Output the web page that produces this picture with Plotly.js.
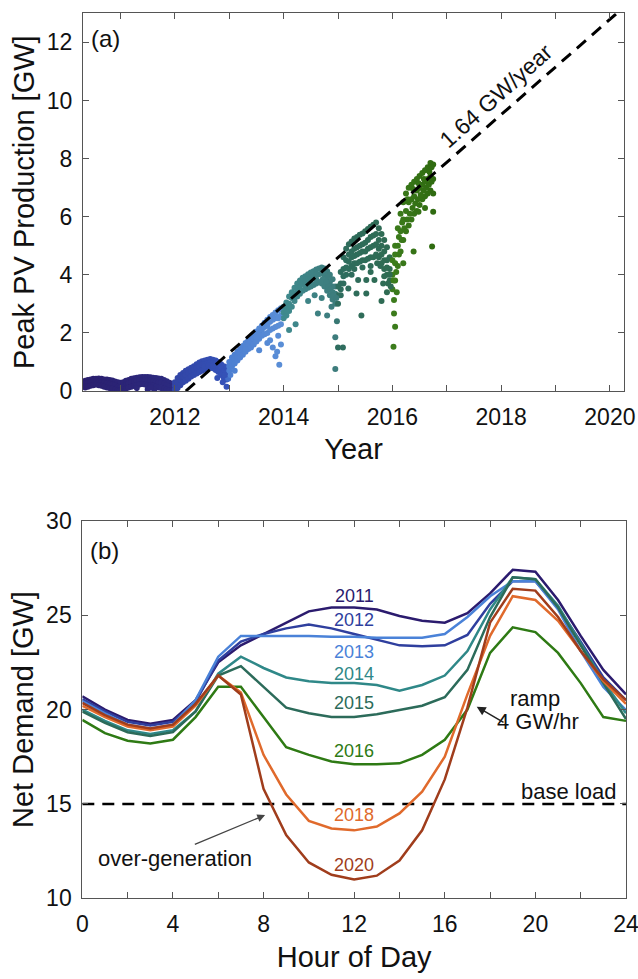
<!DOCTYPE html>
<html>
<head>
<meta charset="utf-8">
<script src="https://cdn.plot.ly/plotly-3.0.1.min.js"></script>
<style>
  html, body { margin: 0; padding: 0; background: #ffffff; }
  #chart { width: 638px; height: 979px; }
</style>
</head>
<body>
<div id="chart"></div>
<script>
// ---------- Panel (a): peak PV production ----------
const bandYear = [
  2010.35,2010.40,2010.45,2010.50,2010.55,2010.60,2010.65,2010.70,2010.75,2010.80,2010.85,2010.90,2010.95,
  2011.00,2011.05,2011.10,2011.15,2011.20,2011.25,2011.30,2011.35,2011.40,2011.45,2011.50,2011.55,2011.60,2011.65,2011.70,2011.75,2011.80,2011.85,2011.90,2011.95,
  2012.00,2012.05,2012.10,2012.15,2012.20,2012.25,2012.30,2012.35,2012.40,2012.45,2012.50,2012.55,2012.60,2012.65,2012.70,2012.75,2012.80,2012.85,2012.90,2012.95,
  2013.00,2013.05,2013.10,2013.15,2013.20,2013.25,2013.30,2013.35,2013.40,2013.45,2013.50,2013.55,2013.60,2013.65,2013.70,2013.75,2013.80,2013.85,2013.90,2013.95,
  2014.00,2014.05,2014.10,2014.15,2014.20,2014.25,2014.30,2014.35,2014.40,2014.45,2014.50,2014.55,2014.60,2014.65,2014.70,2014.75,2014.80,2014.85,2014.90,2014.95,
  2015.00,2015.05,2015.10,2015.15,2015.20,2015.25,2015.30,2015.35,2015.40,2015.45,2015.50,2015.55,2015.60,2015.65,2015.70,2015.75,2015.80,2015.85,2015.90,2015.95,
  2016.00,2016.05,2016.10,2016.15,2016.20,2016.25,2016.30,2016.35,2016.40,2016.45,2016.50,2016.55,2016.60,2016.65,2016.70,2016.75
];
const bandHigh = [
  0.35,0.38,0.40,0.42,0.42,0.43,0.42,0.40,0.40,0.38,0.36,0.33,0.30,
  0.28,0.30,0.35,0.38,0.42,0.44,0.46,0.47,0.48,0.48,0.48,0.47,0.46,0.45,0.43,0.42,0.38,0.34,0.28,0.25,
  0.30,0.45,0.55,0.62,0.70,0.75,0.80,0.85,0.92,0.98,1.02,1.05,1.08,1.10,1.08,1.05,1.00,0.92,0.85,0.82,
  1.00,1.15,1.25,1.35,1.45,1.55,1.65,1.75,1.85,1.95,2.05,2.15,2.25,2.35,2.45,2.55,2.62,2.70,2.78,2.85,
  2.90,3.05,3.25,3.40,3.55,3.70,3.80,3.90,3.95,4.02,4.08,4.12,4.18,4.22,4.25,4.22,4.12,4.00,3.85,3.60,
  3.60,4.10,4.60,4.90,5.05,5.15,5.25,5.30,5.38,5.42,5.50,5.58,5.65,5.72,5.80,5.60,5.40,5.20,4.95,4.60,
  4.50,5.00,5.60,6.10,6.50,6.80,7.00,7.10,7.20,7.30,7.40,7.50,7.60,7.70,7.85,7.80
];
const bandMid = [
  0.25,0.28,0.30,0.32,0.33,0.32,0.30,0.28,0.27,0.25,0.22,0.20,0.15,
  0.14,0.18,0.22,0.26,0.30,0.33,0.35,0.36,0.37,0.37,0.36,0.35,0.33,0.32,0.30,0.28,0.25,0.20,0.15,0.12,
  0.18,0.30,0.40,0.50,0.55,0.62,0.68,0.72,0.78,0.85,0.90,0.92,0.95,0.98,0.96,0.92,0.86,0.78,0.68,0.65,
  0.85,1.00,1.10,1.20,1.30,1.40,1.50,1.60,1.70,1.80,1.90,2.00,2.10,2.20,2.30,2.38,2.45,2.50,2.55,2.60,
  2.70,2.85,3.00,3.20,3.35,3.50,3.60,3.70,3.78,3.85,3.90,3.95,4.00,4.02,4.05,4.00,3.90,3.75,3.60,3.35,
  3.30,3.70,4.20,4.50,4.70,4.80,4.90,4.95,5.00,5.05,5.10,5.20,5.30,5.35,5.40,5.20,5.00,4.80,4.50,4.20,
  4.00,4.40,5.00,5.50,5.90,6.20,6.50,6.60,6.70,6.90,7.00,7.10,7.20,7.30,7.40,7.30
];
const bandLow = [
  0.12,0.15,0.18,0.20,0.22,0.20,0.18,0.15,0.12,0.10,0.08,0.05,0.03,
  0.02,0.05,0.08,0.12,0.15,0.18,0.20,0.22,0.24,0.22,0.20,0.20,0.18,0.15,0.12,0.10,0.08,0.05,0.03,0.02,
  0.05,0.10,0.20,0.30,0.35,0.42,0.50,0.55,0.60,0.65,0.70,0.75,0.78,0.80,0.78,0.72,0.65,0.55,0.45,0.40,
  0.70,0.85,0.95,1.05,1.15,1.25,1.35,1.45,1.50,1.60,1.70,1.80,1.90,1.95,2.00,2.10,2.15,2.20,2.25,2.30,
  2.50,2.60,2.75,2.90,3.10,3.25,3.35,3.45,3.50,3.55,3.60,3.65,3.70,3.75,3.70,3.60,3.45,3.30,3.15,3.00,
  3.00,3.30,3.70,4.00,4.20,4.30,4.40,4.40,4.45,4.50,4.50,4.55,4.60,4.60,4.70,4.60,4.40,4.20,4.00,3.80,
  3.50,3.80,4.30,4.80,5.20,5.50,5.70,5.90,6.10,6.20,6.40,6.60,6.70,6.80,6.90,6.80
];
// extra points inside the wider parts of the cloud
const innerYear = [
  2012.55,2012.62,2012.70,2013.30,2013.50,2013.70,2013.90,
  2014.05,2014.10,2014.20,2014.30,2014.40,2014.50,2014.60,2014.72,2014.78,2014.82,2014.86,2014.90,2014.92,2014.97,
  2015.05,2015.10,2015.15,2015.20,2015.25,2015.30,2015.35,2015.40,2015.45,2015.50,2015.55,2015.60,2015.65,2015.70,2015.75,2015.80,2015.85,2015.90,2015.95,
  2015.30,2015.45,2015.60,2015.72,2015.78,2015.85,2015.92,2015.97,
  2016.02,2016.07,2016.12,2016.17,2016.22,2016.27,2016.32,2016.37,2016.42,2016.47,2016.52,2016.57,2016.62,2016.67,2016.72,
  2016.05,2016.12,2016.18,2016.28,2016.38,2016.48,2016.58,2016.68,2016.72
];
const innerGW = [
  0.85,0.88,0.87,1.45,1.85,2.25,2.50,
  2.75,2.90,3.25,3.45,3.65,3.75,3.85,3.85,3.75,3.60,3.50,3.40,3.30,3.20,
  3.50,3.95,4.25,4.45,4.60,4.65,4.70,4.75,4.80,4.80,4.90,4.95,5.00,5.05,4.90,4.70,4.50,4.25,4.00,
  4.20,4.25,4.30,4.40,4.30,3.95,3.70,3.60,
  3.80,4.10,4.70,5.20,5.60,5.90,6.10,6.30,6.45,6.60,6.75,6.90,7.00,7.10,7.20,
  4.70,5.30,5.80,6.60,6.95,7.15,7.30,7.55,7.70
];
const outlierYear = [
  2011.30,2011.50,2011.62,2011.55,2010.98,2012.88,2012.95,2012.98,2013.02,2012.78,2012.92,
  2013.10,2013.55,2013.70,2013.80,2013.85,2013.90,2013.92,2013.88,2013.75,2013.95,
  2014.10,2014.22,2014.57,2014.63,2014.80,2014.95,2014.95,2015.00,2015.09,2014.45,2014.70,2014.88,2014.98,
  2015.19,2015.37,2015.52,2015.67,2015.34,2015.52,2015.43,2015.80,2015.83,2015.25,2015.60,2015.90,
  2016.02,2016.03,2016.03,2016.05,2016.08,2016.75,2016.73,2016.48,2016.39,2016.20,2016.60
];
const outlierGW = [
  0.10,0.06,0.05,0.12,0.00,0.30,0.15,0.42,0.55,0.45,0.55,
  0.70,1.40,1.65,1.50,1.20,1.90,0.90,1.35,1.75,1.60,
  2.10,2.30,3.30,2.67,2.60,1.85,0.76,1.50,1.50,3.10,3.20,2.90,2.40,
  3.53,3.82,3.82,3.82,3.36,3.36,2.60,3.10,3.70,4.00,4.10,3.40,
  1.52,3.13,2.67,2.21,3.40,6.17,4.97,6.17,4.80,4.40,6.30
];
const trendStartYear = 2012.2;   // year at which fitted trend crosses 0 GW
const trendRate = 1.64;          // GW per year
const trendTop = 13;             // GW (top of axis)

// ---------- Panel (b): net demand by hour ----------
const hours = [0,1,2,3,4,5,6,7,8,9,10,11,12,13,14,15,16,17,18,19,20,21,22,23,24];
const seriesNames = ['2011','2012','2013','2014','2015','2016','2018','2020'];
const d2011 = [20.7,20.0,19.45,19.25,19.45,20.5,22.5,23.4,24.0,24.6,25.2,25.4,25.4,25.3,24.95,24.7,24.6,25.1,26.15,27.4,27.3,25.8,23.9,22.1,20.8];
const d2012 = [20.55,19.9,19.35,19.15,19.35,20.4,22.6,23.6,24.0,24.3,24.5,24.3,24.0,23.7,23.4,23.35,23.4,23.95,25.6,26.8,26.8,25.4,23.6,21.7,20.5];
const d2013 = [20.45,19.8,19.2,19.0,19.2,20.5,22.8,23.9,23.9,23.9,23.9,23.85,23.85,23.8,23.8,23.8,24.0,24.9,26.0,26.8,26.8,25.3,23.1,21.2,19.97];
const d2014 = [20.0,19.4,18.9,18.7,18.9,19.9,21.9,22.8,22.2,21.7,21.5,21.4,21.4,21.3,21.0,21.3,21.8,23.1,25.3,27.0,26.9,25.5,23.5,21.5,19.8];
const d2015 = [19.9,19.3,18.8,18.6,18.8,19.9,21.8,22.3,21.2,20.1,19.8,19.6,19.6,19.75,19.97,20.2,20.65,22.1,24.9,27.0,26.9,25.4,23.4,21.4,19.5];
const d2016 = [19.45,18.75,18.35,18.2,18.4,19.6,21.2,21.2,19.6,18.0,17.6,17.25,17.1,17.1,17.15,17.6,18.4,20.0,23.0,24.35,24.1,23.0,21.4,19.6,19.4];
const d2018 = [20.2,19.6,19.1,18.9,19.1,20.2,21.8,20.9,17.6,15.5,14.1,13.7,13.6,13.8,14.5,15.65,17.5,20.8,23.9,26.0,25.8,24.7,23.1,21.5,20.3];
const d2020 = [20.35,19.7,19.2,19.0,19.2,20.3,21.8,20.8,15.8,13.35,11.9,11.25,11.0,11.2,12.0,13.6,16.3,20.1,24.6,26.4,26.3,24.9,23.1,21.6,20.5];
const labelHour = [12,12,12,12,12,12,12,12];
const labelValue = [26.0,24.75,23.07,21.88,20.33,17.78,14.41,11.76];
const baseLoad = 15;
const xTicksA = [2012,2014,2016,2018,2020];
const xTicksB = [0,4,8,12,16,20,24];

// ---------- styles ----------
const lineColors = ['#2b1b6e','#2f3f9e','#4a82d8','#2f8888','#2c6b5a','#2e7a14','#e06a2c','#a03d1c'];
const FONT = 'Liberation Sans, Arial, Helvetica, sans-serif';
const AX = '#555555';

const pvX = bandYear.concat(bandYear, bandYear, innerYear, outlierYear);
const pvY = bandHigh.concat(bandMid, bandLow, innerGW, outlierGW);

const traces = [];
traces.push({
  type: 'scatter', mode: 'markers', x: pvX, y: pvY, xaxis: 'x', yaxis: 'y',
  marker: {
    size: 6, color: pvX, cmin: 2010.3, cmax: 2016.8, showscale: false,
    colorscale: [
      [0.0000, '#2b1f6e'], [0.2538, '#2c2a80'], [0.2615, '#3245a5'], [0.4077, '#3552b8'],
      [0.4154, '#4d7fd2'], [0.5646, '#5a8ed6'], [0.5692, '#3f8a8e'], [0.7185, '#3d7c7c'],
      [0.7231, '#2f6d5f'], [0.8723, '#2f6b52'], [0.8769, '#3c7c1c'], [1.0000, '#2f6a10']
    ]
  },
  hoverinfo: 'skip', showlegend: false
});
traces.push({
  type: 'scatter', mode: 'lines', xaxis: 'x', yaxis: 'y',
  x: [trendStartYear, trendStartYear + trendTop / trendRate],
  y: [0, trendTop],
  line: { color: '#000000', width: 3, dash: '12px,8px' },
  showlegend: false, hoverinfo: 'skip'
});

const demand = [d2011, d2012, d2013, d2014, d2015, d2016, d2018, d2020];
traces.push({
  type: 'scatter', mode: 'lines', xaxis: 'x2', yaxis: 'y2',
  x: [hours[0], hours[hours.length - 1]], y: [baseLoad, baseLoad],
  line: { color: '#000000', width: 2.5, dash: '12px,8px' },
  showlegend: false, hoverinfo: 'skip'
});
demand.forEach((d, i) => {
  traces.push({
    type: 'scatter', mode: 'lines', x: hours, y: d, xaxis: 'x2', yaxis: 'y2',
    name: seriesNames[i],
    line: { color: lineColors[i], width: 2.5 },
    showlegend: false, hoverinfo: 'skip'
  });
});

const annotations = [];
seriesNames.forEach((n, i) => {
  annotations.push({
    xref: 'x2', yref: 'y2', x: labelHour[i], y: labelValue[i], text: n, showarrow: false,
    font: { family: FONT, size: 18, color: lineColors[i] }, xanchor: 'center', yanchor: 'middle'
  });
});
annotations.push(
  { xref: 'x domain', yref: 'y domain', x: 0.012, y: 0.932, text: '(a)', showarrow: false,
    xanchor: 'left', yanchor: 'middle', font: { family: FONT, size: 24, color: '#111' } },
  { xref: 'x2 domain', yref: 'y2 domain', x: 0.010, y: 0.921, text: '(b)', showarrow: false,
    xanchor: 'left', yanchor: 'middle', font: { family: FONT, size: 24, color: '#111' } },
  { xref: 'x', yref: 'y', x: 2017.9, y: 10.15, text: '1.64 GW/year', showarrow: false,
    textangle: -42, xanchor: 'center', yanchor: 'middle', font: { family: FONT, size: 23, color: '#111' } },
  { xref: 'x2', yref: 'y2', x: 23.65, y: 15.65, text: 'base load', showarrow: false,
    xanchor: 'right', yanchor: 'middle', font: { family: FONT, size: 22, color: '#111' } },
  { xref: 'x2', yref: 'y2', x: 20.0, y: 20.6, text: 'ramp', showarrow: false,
    xanchor: 'center', yanchor: 'middle', font: { family: FONT, size: 22, color: '#111' } },
  { xref: 'x2', yref: 'y2', x: 20.1, y: 19.35, text: '4 GW/hr', showarrow: false,
    xanchor: 'center', yanchor: 'middle', font: { family: FONT, size: 22, color: '#111' } },
  { xref: 'x2', yref: 'y2', x: 17.41, y: 20.15, ax: 18.66, ay: 19.27, axref: 'x2', ayref: 'y2',
    text: '', showarrow: true, arrowhead: 2, arrowsize: 1.2, arrowwidth: 1.5, arrowcolor: '#222' },
  { xref: 'x2', yref: 'y2', x: 4.09, y: 12.13, text: 'over-generation', showarrow: false,
    xanchor: 'center', yanchor: 'middle', font: { family: FONT, size: 22, color: '#111' } },
  { xref: 'x2', yref: 'y2', x: 8.07, y: 14.41, ax: 4.9, ay: 12.82, axref: 'x2', ayref: 'y2',
    text: '', showarrow: true, arrowhead: 2, arrowsize: 1.2, arrowwidth: 1.3, arrowcolor: '#444' }
);

const axisCommon = {
  showline: true, linecolor: AX, linewidth: 1, mirror: 'ticks',
  ticks: 'inside', ticklen: 6, tickcolor: AX, tickwidth: 1,
  showgrid: false, zeroline: false, ticklabeloverflow: 'allow',
  tickfont: { family: FONT, size: 23, color: '#111' }
};

const layout = {
  width: 638, height: 979,
  margin: { l: 0, r: 0, t: 0, b: 0 },
  paper_bgcolor: '#ffffff', plot_bgcolor: '#ffffff',
  showlegend: false,
  font: { family: FONT, color: '#111' },
  xaxis: Object.assign({}, axisCommon, {
    domain: [0.1301, 0.9781], range: [2010.31, 2020.26], anchor: 'y',
    tickmode: 'array', tickvals: xTicksA, ticklabelstandoff: 5,
    minor: { tick0: 2010, dtick: 1, ticks: 'inside', ticklen: 6, tickcolor: AX, showgrid: false },
    title: { text: 'Year', font: { family: FONT, size: 29, color: '#111' }, standoff: 10 }
  }),
  yaxis: Object.assign({}, axisCommon, {
    domain: [0.6006, 0.9864], range: [0, 13], anchor: 'x',
    tick0: 0, dtick: 2, ticklabelstandoff: 5,
    title: { text: 'Peak PV Production [GW]', font: { family: FONT, size: 29, color: '#111' }, standoff: 3 }
  }),
  xaxis2: Object.assign({}, axisCommon, {
    domain: [0.1290, 0.9812], range: [0, 24], anchor: 'y2',
    tickmode: 'array', tickvals: xTicksB, ticklabelstandoff: 5,
    minor: { tick0: 0, dtick: 2, ticks: 'inside', ticklen: 6, tickcolor: AX, showgrid: false },
    title: { text: 'Hour of Day', font: { family: FONT, size: 29, color: '#111' }, standoff: 10 }
  }),
  yaxis2: Object.assign({}, axisCommon, {
    domain: [0.0824, 0.4681], range: [10, 30], anchor: 'x2',
    tick0: 10, dtick: 5, ticklabelstandoff: 5,
    title: { text: 'Net Demand [GW]', font: { family: FONT, size: 29, color: '#111' }, standoff: 3 }
  }),
  annotations: annotations
};

Plotly.newPlot('chart', traces, layout, { staticPlot: true, displayModeBar: false });
</script>
</body>
</html>
